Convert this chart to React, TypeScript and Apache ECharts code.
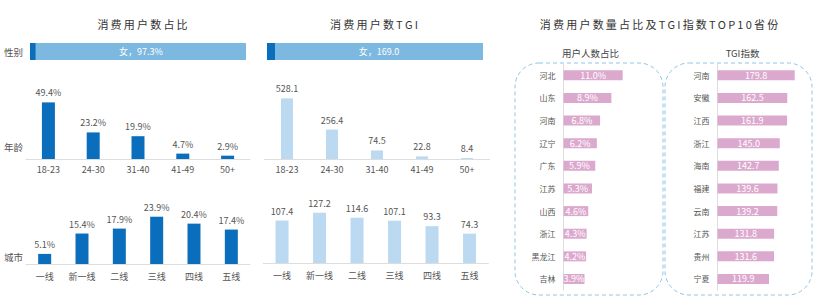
import React, { useEffect, useRef } from "react";
import * as echarts from "echarts";

const genderShare = { male: 2.7, female: 97.3 };
const genderTgi = { male: 6.5, female: 169.0 };
const ageCats = ["18-23", "24-30", "31-40", "41-49", "50+"];
const ageShare = [49.4, 23.2, 19.9, 4.7, 2.9];
const ageTgi = [528.1, 256.4, 74.5, 22.8, 8.4];
const cityCats = ["一线", "新一线", "二线", "三线", "四线", "五线"];
const cityShare = [5.1, 15.4, 17.9, 23.9, 20.4, 17.4];
const cityTgi = [107.4, 127.2, 114.6, 107.1, 93.3, 74.3];
const provShareCats = ["河北", "山东", "河南", "辽宁", "广东", "江苏", "山西", "浙江", "黑龙江", "吉林"];
const provShare = [11.0, 8.9, 6.8, 6.2, 5.9, 5.3, 4.6, 4.3, 4.2, 3.9];
const provTgiCats = ["河南", "安徽", "江西", "浙江", "海南", "福建", "云南", "江苏", "贵州", "宁夏"];
const provTgi = [179.8, 162.5, 161.9, 145.0, 142.7, 139.6, 139.2, 131.8, 131.6, 119.9];

const FONT = "'Noto Sans CJK SC', 'Noto Sans', sans-serif";
const DARK = "#0A6EBD";
const LIGHT = "#7DB8E0";
const PALE = "#BBDAF2";
const PINK = "#DCA9CE";
const TXT = "#555";

const sp = (s: string) => s.split("").join("\u2009");

export default function App() {
  const ref = useRef<HTMLDivElement>(null);
  useEffect(() => {
    document.body.style.margin = "0";
    const chart = echarts.init(ref.current!, null, { renderer: "svg" });

    const grids = [
      { left: 30, top: 43, width: 216, height: 17 },
      { left: 26, top: 97, width: 224, height: 62 },
      { left: 26, top: 209, width: 224, height: 55 },
      { left: 267, top: 43, width: 216, height: 17 },
      { left: 264.5, top: 97, width: 225, height: 62 },
      { left: 263.3, top: 209, width: 225, height: 54 },
      { left: 563.5, top: 64, width: 80.7, height: 226.3 },
      { left: 717.5, top: 64, width: 85.9, height: 226.3 },
    ];

    const catX = (gi: number, data: string[], margin: number) => ({
      type: "category",
      gridIndex: gi,
      data,
      axisLine: { lineStyle: { color: "#dddddd" } },
      axisTick: { show: false },
      axisLabel: { color: TXT, fontSize: 9, margin, fontFamily: FONT },
    });
    const valY = (gi: number, max: number) => ({
      type: "value",
      gridIndex: gi,
      min: 0,
      max,
      show: false,
      splitLine: { show: false },
    });

    const xAxis: any[] = [
      { type: "value", gridIndex: 0, min: 0, max: genderShare.male + genderShare.female, show: false },
      catX(1, ageCats, 6),
      catX(2, cityCats, 8),
      { type: "value", gridIndex: 3, min: 0, max: genderTgi.male + genderTgi.female, show: false },
      catX(4, ageCats, 6),
      catX(5, cityCats, 8),
      { type: "value", gridIndex: 6, min: 0, max: 15, show: false, splitLine: { show: false } },
      { type: "value", gridIndex: 7, min: 0, max: 200, show: false, splitLine: { show: false } },
    ];
    const provY = (gi: number, data: string[]) => ({
      type: "category",
      gridIndex: gi,
      data,
      inverse: true,
      axisLine: { show: true, lineStyle: { color: "#dddddd" } },
      axisTick: { show: false },
      axisLabel: { color: TXT, fontSize: 8, margin: 8, fontFamily: FONT },
    });
    const yAxis: any[] = [
      { type: "category", gridIndex: 0, data: ["性别"], show: false },
      valY(1, 54.1),
      valY(2, 27.8),
      { type: "category", gridIndex: 3, data: ["性别"], show: false },
      valY(4, 540),
      valY(5, 136.6),
      provY(6, provShareCats),
      provY(7, provTgiCats),
    ];

    const topLabel = (pct: boolean) => ({
      show: true,
      position: "top",
      distance: 5,
      color: TXT,
      fontSize: 9,
      fontFamily: FONT,
      formatter: (p: any) => Number(p.value).toFixed(1) + (pct ? "%" : ""),
    });

    const series: any[] = [
      {
        type: "bar", xAxisIndex: 0, yAxisIndex: 0, stack: "g1", barWidth: 17,
        data: [genderShare.male], itemStyle: { color: DARK },
      },
      {
        type: "bar", xAxisIndex: 0, yAxisIndex: 0, stack: "g1", barWidth: 17,
        data: [genderShare.female], itemStyle: { color: LIGHT },
        label: {
          show: true, position: "inside", color: "#fff", fontSize: 9, fontFamily: FONT,
          formatter: (p: any) => "女，" + Number(p.value).toFixed(1) + "%",
        },
      },
      {
        type: "bar", xAxisIndex: 1, yAxisIndex: 1, barWidth: 13, data: ageShare,
        itemStyle: { color: DARK }, label: topLabel(true),
      },
      {
        type: "bar", xAxisIndex: 2, yAxisIndex: 2, barWidth: 13, data: cityShare,
        itemStyle: { color: DARK }, label: topLabel(true),
      },
      {
        type: "bar", xAxisIndex: 3, yAxisIndex: 3, stack: "g2", barWidth: 17,
        data: [genderTgi.male], itemStyle: { color: DARK },
      },
      {
        type: "bar", xAxisIndex: 3, yAxisIndex: 3, stack: "g2", barWidth: 17,
        data: [genderTgi.female], itemStyle: { color: LIGHT },
        label: {
          show: true, position: "inside", color: "#fff", fontSize: 9, fontFamily: FONT,
          formatter: (p: any) => "女，" + Number(p.value).toFixed(1),
        },
      },
      {
        type: "bar", xAxisIndex: 4, yAxisIndex: 4, barWidth: 12, data: ageTgi,
        itemStyle: { color: PALE }, label: topLabel(false),
      },
      {
        type: "bar", xAxisIndex: 5, yAxisIndex: 5, barWidth: 13, data: cityTgi,
        itemStyle: { color: PALE }, label: topLabel(false),
      },
      {
        type: "bar", xAxisIndex: 6, yAxisIndex: 6, barWidth: 10, data: provShare,
        itemStyle: { color: PINK },
        label: {
          show: true, position: "inside", color: "#fff", fontSize: 9, fontFamily: FONT,
          formatter: (p: any) => Number(p.value).toFixed(1) + "%",
        },
      },
      {
        type: "bar", xAxisIndex: 7, yAxisIndex: 7, barWidth: 10, data: provTgi,
        itemStyle: { color: PINK },
        label: {
          show: true, position: "inside", color: "#fff", fontSize: 9, fontFamily: FONT,
          formatter: (p: any) => Number(p.value).toFixed(1),
        },
      },
    ];

    const title = (text: string, x: number, y: number) => ({
      type: "text", x, y,
      style: { text: sp(text), fill: "#333", fontSize: 11, fontFamily: FONT, align: "center", verticalAlign: "middle" },
    });
    const sideLabel = (text: string, y: number) => ({
      type: "text", x: 4, y,
      style: { text, fill: TXT, fontSize: 9.5, fontFamily: FONT, align: "left", verticalAlign: "middle" },
    });
    const sub = (text: string, x: number) => ({
      type: "text", x, y: 52.5,
      style: { text, fill: "#444", fontSize: 9.5, fontFamily: FONT, align: "center", verticalAlign: "middle" },
    });
    const box = (x: number, w: number) => ({
      type: "rect",
      shape: { x, y: 63, width: w, height: 232, r: 24 },
      style: { fill: "none", stroke: "#8EC5E8", lineWidth: 1, lineDash: [4, 3] },
    });

    chart.setOption({
      animation: false,
      backgroundColor: "#ffffff",
      grid: grids,
      xAxis,
      yAxis,
      series,
      graphic: [
        title("消费用户数占比", 142.5, 23.5),
        title("消费用户数TGI", 374, 23.5),
        title("消费用户数量占比及TGI指数TOP10省份", 659, 23.5),
        sideLabel("性别", 51.7),
        sideLabel("年龄", 146.7),
        sideLabel("城市", 257),
        sub("用户人数占比", 590.5),
        sub("TGI指数", 742.5),
        box(515, 148),
        box(665, 147),
      ],
    });
    return () => chart.dispose();
  }, []);
  return <div ref={ref} style={{ width: 822, height: 301 }} />;
}
